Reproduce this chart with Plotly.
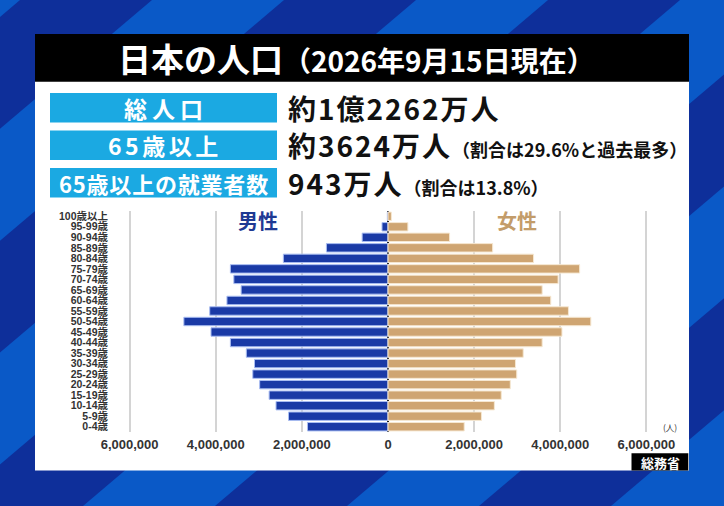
import plotly.graph_objects as go

# ---------------- data ----------------
age_groups = ["0-4歳", "5-9歳", "10-14歳", "15-19歳", "20-24歳", "25-29歳", "30-34歳",
              "35-39歳", "40-44歳", "45-49歳", "50-54歳", "55-59歳", "60-64歳", "65-69歳",
              "70-74歳", "75-79歳", "80-84歳", "85-89歳", "90-94歳", "95-99歳", "100歳以上"]
male = [1870000, 2310000, 2600000, 2760000, 2980000, 3140000, 3100000,
        3290000, 3660000, 4110000, 4740000, 4140000, 3740000, 3410000,
        3580000, 3660000, 2430000, 1430000, 600000, 139000, 15000]
female = [1770000, 2170000, 2470000, 2630000, 2840000, 2990000, 2960000,
          3140000, 3580000, 4040000, 4710000, 4190000, 3780000, 3580000,
          3950000, 4450000, 3380000, 2430000, 1430000, 462000, 78000]
tick_vals = [-6000000, -4000000, -2000000, 0, 2000000, 4000000, 6000000]
tick_text = ["6,000,000", "4,000,000", "2,000,000", "0", "2,000,000", "4,000,000", "6,000,000"]

title_main = "日本の人口"
title_sub = "（2026年9月15日現在）"
info_labels = ["総人口", "65歳以上", "65歳以上の就業者数"]
info_values = ["約1億2262万人", "約3624万人", "943万人"]
info_notes = ["", "（割合は29.6%と過去最多）", "（割合は13.8%）"]
source = "総務省"

# ---------------- layout geometry ----------------
W, H = 724, 506
ML, MR, MT, MB = 121, 69, 211, 74
PW, PH = W - ML - MR, H - MT - MB
CJK = "Noto Sans CJK JP"


def px(x):
    return (x - ML) / PW


def py(y):
    return 1 - (y - MT) / PH


male_neg = [-v for v in male]

fig = go.Figure()
fig.add_trace(go.Bar(y=age_groups, x=male_neg, orientation="h", name="男性",
                     marker=dict(color="#1a3aa6", line=dict(color="#a9bdf2", width=1)),
                     customdata=male, hovertemplate="%{y}: %{customdata:,}<extra>男性</extra>"))
fig.add_trace(go.Bar(y=age_groups, x=female, orientation="h", name="女性",
                     marker=dict(color="#cfa572", line=dict(color="#f6e8d2", width=1)),
                     hovertemplate="%{y}: %{x:,}<extra>女性</extra>"))

shapes = []
# background stripes
for k in range(-1, 6):
    a = -112 + 264 * k
    pts = [(a, 0), (a + 132, 0), (a + 132 - 597, H), (a - 597, H)]
    path = "M " + " L ".join(f"{px(x)},{py(y)}" for x, y in pts) + " Z"
    shapes.append(dict(type="path", xref="paper", yref="paper", path=path,
                       fillcolor="#0a59c7", line=dict(width=0), layer="below"))


def rect(x0, y0, x1, y1, color):
    shapes.append(dict(type="rect", xref="paper", yref="paper",
                       x0=px(x0), x1=px(x1), y0=py(y1), y1=py(y0),
                       fillcolor=color, line=dict(width=0), layer="below"))


rect(35, 34, 689, 470.5, "white")        # white panel
rect(35, 34, 689, 81.7, "black")         # title bar
box_tops = [93, 130.5, 168]
for t in box_tops:
    rect(50, t, 277, t + 29.5, "#1ba9e2")
rect(631.5, 453.3, 688.3, 470.5, "black")  # source box

label_spacing = [5, 3.5, 0.8]
label_sizes = [23, 23, 22]

ann = []
ann.append(dict(x=px(356), y=py(58), xref="paper", yref="paper", showarrow=False,
                xanchor="center", yanchor="middle",
                text=f"<b>{title_main}<span style='font-size:28px'>{title_sub}</span></b>",
                font=dict(family=CJK, size=33, color="white")))
for t, lab, val, note, sp, sz in zip(box_tops, info_labels, info_values, info_notes,
                                     label_spacing, label_sizes):
    ann.append(dict(x=px(163.5 + sp / 2), y=py(t + 14.75), xref="paper", yref="paper", showarrow=False,
                    xanchor="center", yanchor="middle",
                    text=f"<b><span style='letter-spacing:{sp}px'>{lab}</span></b>",
                    font=dict(family=CJK, size=sz, color="white")))
    txt = (f"<b><span style='letter-spacing:2px'>{val}</span>"
           + (f"<span style='font-size:18px'>{note}</span>" if note else "") + "</b>")
    ann.append(dict(x=px(286), y=py(t + 14.75), xref="paper", yref="paper", showarrow=False,
                    xanchor="left", yanchor="middle", text=txt,
                    font=dict(family=CJK, size=28, color="#111111")))
ann.append(dict(x=px(258), y=py(220), xref="paper", yref="paper", showarrow=False,
                xanchor="center", yanchor="middle", text="<b>男性</b>",
                font=dict(family=CJK, size=20, color="#1f3a93")))
ann.append(dict(x=px(517), y=py(220), xref="paper", yref="paper", showarrow=False,
                xanchor="center", yanchor="middle", text="<b>女性</b>",
                font=dict(family=CJK, size=20, color="#c39c69")))
ann.append(dict(x=px(670), y=py(426.5), xref="paper", yref="paper", showarrow=False,
                xanchor="center", yanchor="middle", text="(人)",
                font=dict(family=CJK, size=8.5, color="#333333")))
ann.append(dict(x=px(660), y=py(462), xref="paper", yref="paper", showarrow=False,
                xanchor="center", yanchor="middle", text=f"<b>{source}</b>",
                font=dict(family=CJK, size=13, color="white")))

fig.update_layout(
    width=W, height=H,
    margin=dict(l=ML, r=MR, t=MT, b=MB, pad=0),
    paper_bgcolor="#0e2f9a", plot_bgcolor="white",
    barmode="relative", bargap=0.2,
    showlegend=False,
    shapes=shapes, annotations=ann,
    xaxis=dict(range=[-6200000, 6200000], tickvals=tick_vals, ticktext=tick_text,
               showgrid=True, gridcolor="#d4d4d4", gridwidth=1.5,
               zeroline=True, zerolinecolor="#222222", zerolinewidth=2,
               ticklabelstandoff=3,
               tickfont=dict(family="Liberation Sans", size=13, color="#333333", weight="bold"),
               fixedrange=True),
    yaxis=dict(categoryorder="array", categoryarray=age_groups, showgrid=False,
               tickmode="array", tickvals=age_groups, ticktext=age_groups,
               ticklabelstandoff=12,
               tickfont=dict(family="Liberation Sans, Noto Sans CJK JP", size=10.5,
                             color="#333333", weight="bold"),
               fixedrange=True),
    font=dict(family=CJK),
)

fig.write_html("out.html")
